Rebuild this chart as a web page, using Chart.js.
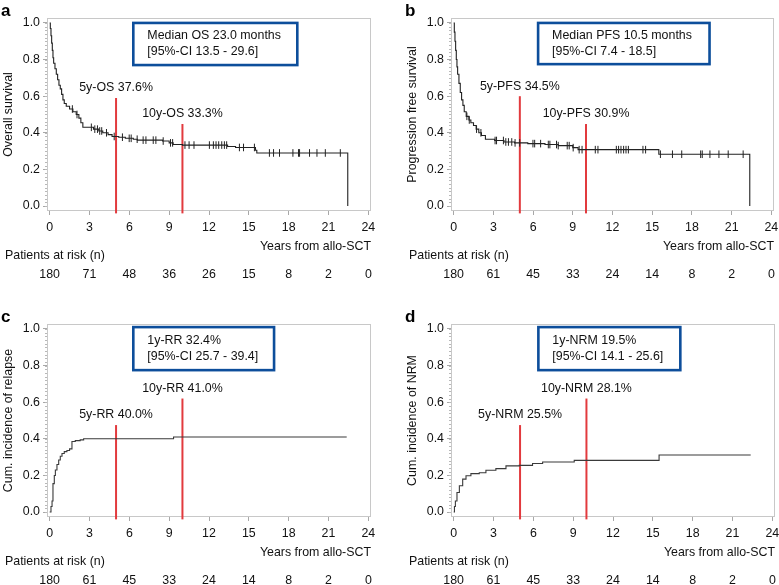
<!DOCTYPE html>
<html>
<head>
<meta charset="utf-8">
<script src="https://cdn.jsdelivr.net/npm/chart.js@4.4.1/dist/chart.umd.min.js"></script>
<style>
  html, body { margin: 0; padding: 0; background: #fff; width: 779px; height: 585px; overflow: hidden; }
  canvas { position: absolute; }
</style>
</head>
<body>
<canvas id="pa" width="389" height="306" style="left:0;top:0"></canvas>
<canvas id="pb" width="375" height="306" style="left:404px;top:0"></canvas>
<canvas id="pc" width="389" height="279" style="left:0;top:306px"></canvas>
<canvas id="pd" width="375" height="279" style="left:404px;top:306px"></canvas>
<script>
// Axis ticks
const xTicks = [0, 3, 6, 9, 12, 15, 18, 21, 24];
const yTicks = [0, 0.2, 0.4, 0.6, 0.8, 1.0];

// a) Overall survival (Kaplan-Meier steps)
const osTime = [0, 0.05, 0.1, 0.15, 0.2, 0.25, 0.3, 0.4, 0.5, 0.6, 0.7, 0.8, 0.9, 1.0, 1.1, 1.25, 1.5, 1.75, 2.0, 2.2, 2.35, 2.5, 3.3, 3.7, 4.0, 4.4, 4.7, 5.2, 5.7, 6.3, 6.6, 8.5, 9.0, 9.3, 10.0, 13.4, 14.0, 15.5, 15.6, 22.45];
const osSurv = [1.0, 0.97, 0.93, 0.89, 0.85, 0.81, 0.78, 0.75, 0.72, 0.69, 0.66, 0.64, 0.61, 0.58, 0.56, 0.545, 0.53, 0.515, 0.5, 0.48, 0.455, 0.43, 0.42, 0.41, 0.4, 0.39, 0.38, 0.376, 0.37, 0.365, 0.36, 0.355, 0.345, 0.336, 0.333, 0.325, 0.32, 0.305, 0.29, 0.0];
const osCensor = [1.71, 2.06, 3.14, 3.4, 3.6, 3.77, 3.92, 4.28, 4.86, 5.48, 5.99, 6.14, 6.59, 7.04, 7.25, 7.8, 8.0, 8.55, 9.1, 9.26, 10.19, 10.5, 10.87, 12.03, 12.33, 12.53, 12.73, 12.96, 13.16, 13.33, 14.29, 14.6, 15.42, 16.55, 16.86, 17.31, 18.32, 18.74, 18.82, 19.57, 20.13, 20.76, 21.89];
const osRisk = [180, 71, 48, 36, 26, 15, 8, 2, 0];

// b) Progression free survival
const pfsTime = [0, 0.05, 0.1, 0.15, 0.2, 0.25, 0.3, 0.4, 0.5, 0.6, 0.7, 0.8, 0.95, 1.15, 1.3, 1.5, 1.7, 1.9, 2.1, 2.4, 3.1, 3.8, 4.6, 5.6, 6.9, 7.9, 9.0, 9.4, 15.5, 22.37];
const pfsSurv = [1.0, 0.95, 0.9, 0.85, 0.8, 0.76, 0.72, 0.67, 0.62, 0.58, 0.55, 0.515, 0.49, 0.47, 0.455, 0.44, 0.42, 0.4, 0.385, 0.365, 0.358, 0.35, 0.345, 0.341, 0.336, 0.33, 0.319, 0.308, 0.283, 0.0];
const pfsCensor = [1.0, 1.18, 1.73, 2.06, 3.13, 3.24, 3.76, 3.94, 4.14, 4.39, 4.64, 4.99, 5.99, 6.12, 6.57, 7.15, 7.27, 7.77, 7.9, 8.58, 8.73, 9.03, 9.48, 9.7, 10.7, 10.9, 12.29, 12.46, 12.64, 12.84, 13.02, 13.2, 14.3, 14.5, 15.62, 16.53, 17.23, 18.66, 18.78, 19.36, 20.04, 20.74, 21.87];
const pfsRisk = [180, 61, 45, 33, 24, 14, 8, 2, 0];

// c) Cumulative incidence of relapse
const rrTime = [0, 0.1, 0.18, 0.25, 0.35, 0.43, 0.55, 0.68, 0.8, 0.93, 1.1, 1.3, 1.5, 1.68, 1.93, 2.3, 2.56, 9.33, 22.37];
const rrCum = [0, 0.03, 0.06, 0.155, 0.2, 0.23, 0.26, 0.284, 0.305, 0.32, 0.33, 0.336, 0.345, 0.385, 0.39, 0.394, 0.4, 0.41, 0.41];
const rrRisk = [180, 61, 45, 33, 24, 14, 8, 2, 0];

// d) Cumulative incidence of NRM
const nrmTime = [0, 0.06, 0.13, 0.25, 0.43, 0.68, 0.93, 1.3, 1.93, 2.43, 3.18, 3.94, 4.94, 5.94, 6.7, 9.08, 15.47, 22.37];
const nrmCum = [0, 0.03, 0.06, 0.107, 0.144, 0.18, 0.198, 0.21, 0.215, 0.228, 0.237, 0.252, 0.255, 0.265, 0.273, 0.282, 0.312, 0.312];
const nrmRisk = [180, 61, 45, 33, 24, 14, 8, 2, 0];

// landmark years
const landmarkYears = [5, 10];

const FONT = '"Liberation Sans", Arial, Helvetica, sans-serif';
const FS = 12.4;
Chart.defaults.font.family = FONT;
Chart.defaults.font.size = FS;
Chart.defaults.color = '#111';

function stepValue(times, vals, t) {
  let v = vals[0];
  for (let i = 0; i < times.length; i++) if (times[i] <= t) v = vals[i];
  return v;
}

const decor = {
  id: 'decor',
  beforeDatasetsDraw(chart, args, o) {
    const { ctx, chartArea: a, scales: { y } } = chart;
    ctx.save();
    ctx.strokeStyle = '#c8c8c8';
    ctx.lineWidth = 1;
    ctx.strokeRect(a.left + 0.5, a.top + 0.5, a.right - a.left - 1, a.bottom - a.top - 1);
    // minor ticks along the y axis
    ctx.strokeStyle = '#b8b8b8';
    for (let k = 0; k <= 50; k++) {
      const py = Math.round(y.getPixelForValue(k / 50)) + 0.5;
      ctx.beginPath();
      ctx.moveTo(a.left - 2, py);
      ctx.lineTo(a.left, py);
      ctx.stroke();
    }
    ctx.restore();
  },
  afterDraw(chart, args, o) {
    const { ctx, chartArea: a, scales: { x, y } } = chart;
    ctx.save();
    // panel letter
    ctx.font = 'bold 17px ' + FONT;
    ctx.fillStyle = '#000';
    ctx.textAlign = 'left';
    ctx.textBaseline = 'middle';
    ctx.fillText(o.letter, 1, 11);

    // summary box
    const b = o.box;
    const bx0 = x.getPixelForValue(b.x0), bx1 = x.getPixelForValue(b.x1);
    const by0 = y.getPixelForValue(b.y0), by1 = y.getPixelForValue(b.y1);
    ctx.fillStyle = '#fff';
    ctx.fillRect(bx0, by0, bx1 - bx0, by1 - by0);
    ctx.strokeStyle = '#0d4e9b';
    ctx.lineWidth = 2.6;
    ctx.strokeRect(bx0, by0, bx1 - bx0, by1 - by0);
    ctx.font = FS + 'px ' + FONT;
    ctx.fillStyle = '#111';
    ctx.fillText(b.lines[0], bx0 + 14, by0 + 13);
    ctx.fillText(b.lines[1], bx0 + 14, by0 + 29);

    // landmark labels
    ctx.textAlign = 'center';
    o.marks.forEach(m => {
      ctx.fillText(m.label, x.getPixelForValue(m.x), y.getPixelForValue(m.top) - 10);
    });

    // at-risk table
    ctx.textAlign = 'right';
    ctx.fillText('Years from allo-SCT', a.right, a.bottom + 36);
    ctx.textAlign = 'left';
    ctx.fillText('Patients at risk (n)', a.left - 42, a.bottom + 45);
    ctx.textAlign = 'center';
    xTicks.forEach((t, i) => ctx.fillText(String(o.risk[i]), x.getPixelForValue(t), a.bottom + 64));
    ctx.restore();
  }
};

function makePanel(id, p) {
  const canvas = document.getElementById(id);
  const W = canvas.width, H = canvas.height;
  const datasets = [
    {
      data: p.time.map((t, i) => ({ x: t, y: p.value[i] })),
      borderColor: p.censor ? '#222' : '#3a3a3a',
      borderWidth: 1.1,
      stepped: true,
      pointRadius: 0,
      fill: false
    }
  ];
  if (p.censor) {
    datasets.push({
      data: p.censor.map(t => ({ x: t, y: stepValue(p.time, p.value, t) })),
      showLine: false,
      pointStyle: 'line',
      rotation: 90,
      pointRadius: 3.8,
      borderColor: '#222',
      borderWidth: 1
    });
  }
  p.marks.forEach(m => {
    datasets.push({
      data: [{ x: m.x, y: -0.04 }, { x: m.x, y: m.top }],
      borderColor: '#e23a3e',
      borderWidth: 2,
      pointRadius: 0,
      clip: false
    });
  });

  new Chart(canvas.getContext('2d'), {
    type: 'line',
    data: { datasets },
    options: {
      responsive: false,
      animation: false,
      layout: { padding: { top: 18, right: W - 371, left: 0, bottom: 0 } },
      plugins: {
        legend: { display: false },
        tooltip: { enabled: false },
        decor: { letter: p.letter, box: p.box, marks: p.marks, risk: p.risk }
      },
      scales: {
        x: {
          type: 'linear',
          min: -0.2,
          max: 24.2,
          afterBuildTicks: s => { s.ticks = xTicks.map(v => ({ value: v })); },
          afterFit: s => { s.height = H - 211; s.paddingLeft = 0; s.paddingRight = 0; },
          ticks: { padding: 5, color: '#111', font: { size: FS } },
          grid: { drawOnChartArea: false, drawTicks: true, tickLength: 4, color: '#a8a8a8' },
          border: { display: false }
        },
        y: {
          type: 'linear',
          min: -0.027,
          max: 1.027,
          afterBuildTicks: s => { s.ticks = yTicks.map(v => ({ value: v })); },
          afterFit: s => { s.width = 47; s.paddingTop = 0; s.paddingBottom = 0; },
          ticks: { padding: 3, color: '#111', font: { size: FS }, callback: v => v.toFixed(1) },
          grid: { drawOnChartArea: false, drawTicks: true, tickLength: 4, color: '#a8a8a8' },
          border: { display: false },
          title: { display: true, text: p.yTitle, color: '#111', font: { size: FS }, padding: { top: 1, bottom: 0 } }
        }
      }
    },
    plugins: [decor]
  });
}

makePanel('pa', {
  letter: 'a', yTitle: 'Overall survival',
  time: osTime, value: osSurv, censor: osCensor, risk: osRisk,
  marks: [
    { x: landmarkYears[0], top: 0.59, label: '5y-OS 37.6%' },
    { x: landmarkYears[1], top: 0.448, label: '10y-OS 33.3%' }
  ],
  box: { x0: 6.3, x1: 18.65, y0: 1.0, y1: 0.77, lines: ['Median OS 23.0 months', '[95%-CI 13.5 - 29.6]'] }
});

makePanel('pb', {
  letter: 'b', yTitle: 'Progression free survival',
  time: pfsTime, value: pfsSurv, censor: pfsCensor, risk: pfsRisk,
  marks: [
    { x: landmarkYears[0], top: 0.6, label: '5y-PFS 34.5%' },
    { x: landmarkYears[1], top: 0.448, label: '10y-PFS 30.9%' }
  ],
  box: { x0: 6.38, x1: 19.33, y0: 1.0, y1: 0.775, lines: ['Median PFS 10.5 months', '[95%-CI 7.4 - 18.5]'] }
});

makePanel('pc', {
  letter: 'c', yTitle: 'Cum. incidence of relapse',
  time: rrTime, value: rrCum, risk: rrRisk,
  marks: [
    { x: landmarkYears[0], top: 0.475, label: '5y-RR 40.0%' },
    { x: landmarkYears[1], top: 0.62, label: '10y-RR 41.0%' }
  ],
  box: { x0: 6.3, x1: 16.9, y0: 1.01, y1: 0.775, lines: ['1y-RR 32.4%', '[95%-CI 25.7 - 39.4]'] }
});

makePanel('pd', {
  letter: 'd', yTitle: 'Cum. incidence of NRM',
  time: nrmTime, value: nrmCum, risk: nrmRisk,
  marks: [
    { x: landmarkYears[0], top: 0.475, label: '5y-NRM 25.5%' },
    { x: landmarkYears[1], top: 0.62, label: '10y-NRM 28.1%' }
  ],
  box: { x0: 6.38, x1: 17.07, y0: 1.01, y1: 0.775, lines: ['1y-NRM 19.5%', '[95%-CI 14.1 - 25.6]'] }
});
</script>
</body>
</html>
